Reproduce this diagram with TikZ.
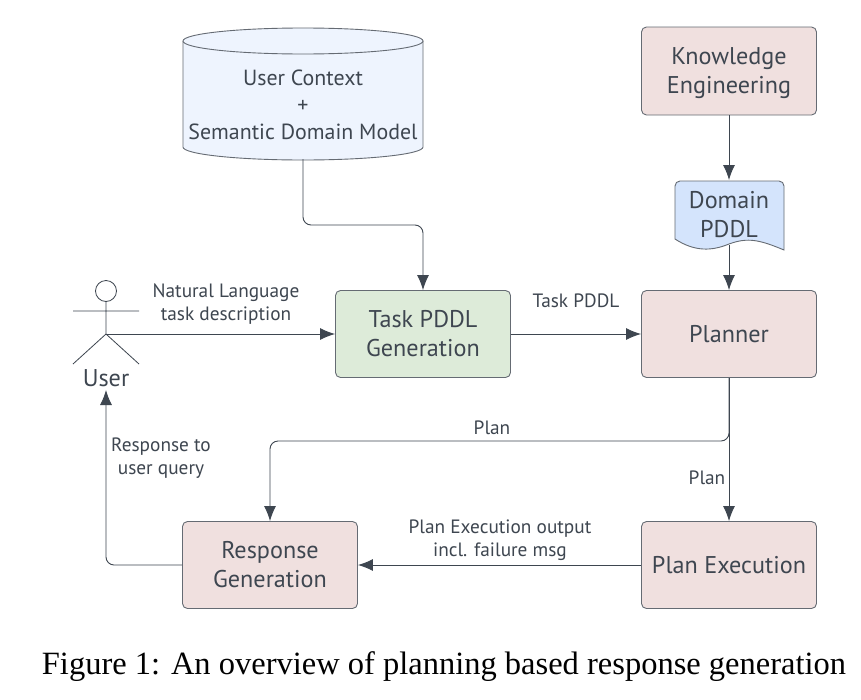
\documentclass[tikz,border=0pt]{standalone}
\usepackage{fontspec}
\setmainfont{Liberation Serif}
\newfontfamily\lab{PT Sans}
\usetikzlibrary{arrows.meta,shapes.geometric}
\definecolor{pk}{HTML}{F0E0DF}
\definecolor{gr}{HTML}{DDEBD9}
\definecolor{bl}{HTML}{EEF4FE}
\definecolor{dp}{HTML}{D4E4FC}
\definecolor{ln}{HTML}{3E4650}
\tikzset{x=1pt,y=-1pt,
 box/.style={draw=ln!80,line width=.9pt,rounded corners=5pt,inner sep=0pt,align=center,font=\lab\fontsize{24.2}{29}\selectfont,text=ln},
 conn/.style={draw=ln,line width=.9pt,-{Latex[length=15pt,width=12pt]},rounded corners=8pt},
 lbl/.style={font=\lab\fontsize{19.3}{23}\selectfont,text=ln,align=center,inner sep=0pt}}
\begin{document}
\begin{tikzpicture}
\useasboundingbox (0,0) rectangle (861,699);
\fill[white] (0,0) rectangle (861,699);
% cylinder
\path[fill=bl,draw=ln!80,line width=.9pt] (183,41) -- (183,147) arc[start angle=180,end angle=360,x radius=120,y radius=-13] -- (423,41);
\path[fill=bl,draw=ln!80,line width=.9pt] (303,41) ellipse [x radius=120,y radius=13];
\node[lbl,font=\lab\fontsize{21.9}{27}\selectfont] (db) at (303,105) {User Context\\+\\Semantic Domain Model};
\coordinate (dbb) at (303,159);
\node[box,fill=pk,minimum width=175pt,minimum height=88pt] (ke) at (729,71) {};
\node[box,draw=none,rounded corners=0pt] (ketext) at (729,73) {Knowledge\\Engineering};
% doc
\path[fill=dp,draw=ln!80,line width=.9pt] (675,186) arc[start angle=180,end angle=90,radius=5pt] -- (779,181) arc[start angle=90,end angle=0,radius=5pt] -- (784,250) .. controls (760,240) and (748,237) .. (729,244) .. controls (712,251) and (695,252) .. (675,239) -- cycle;
\node[lbl,font=\lab\fontsize{24.2}{29}\selectfont] (dom) at (729,215) {Domain\\PDDL};
\coordinate (domT) at (729,180);
\coordinate (domB) at (729,245);
\node[box,fill=pk,minimum width=175pt,minimum height=87pt] (pl) at (729,334) {Planner};
\node[box,fill=gr,minimum width=175pt,minimum height=87pt] (tk) at (423,334) {Task PDDL\\Generation};
\node[box,fill=pk,minimum width=175pt,minimum height=87pt] (pe) at (729,565) {Plan Execution};
\node[box,fill=pk,minimum width=175pt,minimum height=87pt] (rg) at (270,565) {Response\\Generation};
% user
\draw[ln,line width=.8pt] (106,291) circle (10.5);
\draw[ln,line width=.8pt] (106,301.5) -- (106,334) (73,311) -- (139,311) (106,334) -- (73,364) (106,334) -- (139,364);
\node[lbl,font=\lab\fontsize{24.2}{29}\selectfont] (us) at (106,378) {User};
\coordinate (usr) at (106,334);
\coordinate (ust) at (106,390);
% connectors
\draw[conn] (dbb) -- (303,225) -- (423,225) -- (tk.north);
\draw[conn] (ke) -- (domT);
\draw[conn] (domB) -- (pl.north);
\draw[conn] (usr) -- (tk.west);
\draw[conn] (tk) -- (pl);
\draw[conn] (pl) -- (pe);
\draw[conn] (pl.south) -- (729,441) -- (270,441) -- (rg.north);
\draw[conn] (pe) -- (rg);
\draw[conn] (rg.west) -- (106,565) -- (ust);
\node[lbl] (a) at (226,304) {Natural Language\\task description};
\node[lbl] (b) at (576,301) {Task PDDL};
\node[lbl] (c) at (492,428) {Plan};
\node[lbl] (d) at (707,478) {Plan};
\node[lbl] (e) at (161,458) {Response to\\user query};
\node[lbl] (f) at (500,540) {Plan Execution output\\incl. failure msg};
\node[font=\fontsize{32.5}{36}\selectfont,text=black,inner sep=0pt] (cap) at (444,667) {Figure 1: An overview of planning based response generation};
\end{tikzpicture}
\end{document}
